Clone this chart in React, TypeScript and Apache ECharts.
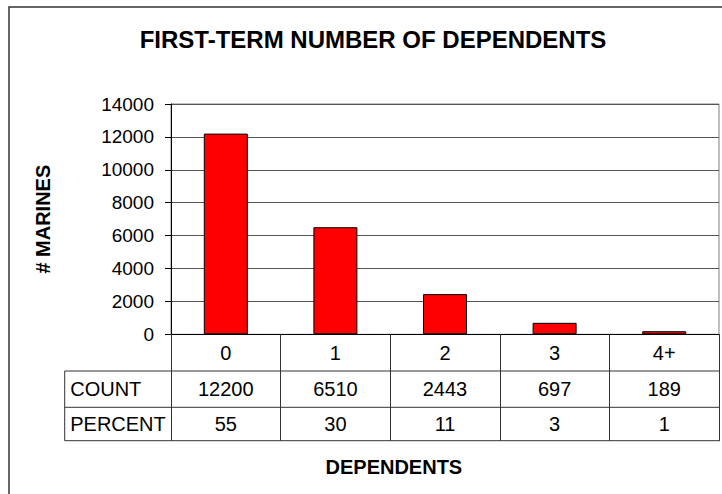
import React, { useEffect, useRef } from "react";
import * as echarts from "echarts";

// ---- data ----
const categories = ["0", "1", "2", "3", "4+"];
const counts = [12200, 6510, 2443, 697, 189];
const percents = [55, 30, 11, 3, 1];
const rowLabels = ["COUNT", "PERCENT"];
const yMin = 0;
const yMax = 14000;
const yInterval = 2000;
const titleText = "FIRST-TERM NUMBER OF DEPENDENTS";
const yName = "# MARINES";
const xName = "DEPENDENTS";

// ---- layout ----
const W = 722;
const H = 494;
const gridLeftX = 171;
const gridRightX = 719;
const gridTopY = 104;
const gridBottomY = 334.3;
const rowH = [36.7, 36.3, 33.4];
const tableLeftX = 64.7;
const FONT = "Arial, 'Liberation Sans', Helvetica, sans-serif";

export default function App() {
  const ref = useRef<HTMLDivElement>(null);

  useEffect(() => {
    if (!ref.current) return;
    const chart = echarts.init(ref.current, null, { renderer: "svg" });

    const row1Y = gridBottomY + rowH[0];
    const row2Y = row1Y + rowH[1];
    const row3Y = row2Y + rowH[2];
    const lineStyle = { stroke: "#333", lineWidth: 1 };

    const graphics: any[] = [
      {
        type: "rect",
        silent: true,
        z: -10,
        shape: { x: 9, y: 7, width: 800, height: 600 },
        style: { fill: "none", stroke: "#333", lineWidth: 1.5 },
      },
      {
        type: "text",
        x: 373,
        y: 39,
        style: {
          text: titleText,
          font: `bold 24px ${FONT}`,
          fill: "#000",
          textAlign: "center",
          textVerticalAlign: "middle",
        },
      },
      ...[row1Y, row2Y, row3Y].map((y) => ({
        type: "line",
        silent: true,
        shape: { x1: tableLeftX, y1: y, x2: gridRightX + 1, y2: y },
        style: lineStyle,
      })),
      {
        type: "line",
        silent: true,
        shape: { x1: tableLeftX, y1: row1Y, x2: tableLeftX, y2: row3Y },
        style: lineStyle,
      },
      ...rowLabels.map((t, i) => ({
        type: "text",
        x: tableLeftX + 5.5,
        y: i === 0 ? (row1Y + row2Y) / 2 : (row2Y + row3Y) / 2,
        style: {
          text: t,
          font: `20px ${FONT}`,
          fill: "#000",
          textAlign: "left",
          textVerticalAlign: "middle",
        },
      })),
      {
        type: "text",
        x: (tableLeftX + gridRightX) / 2 + 2,
        y: 467,
        style: {
          text: xName,
          font: `bold 20px ${FONT}`,
          fill: "#000",
          textAlign: "center",
          textVerticalAlign: "middle",
        },
      },
    ];

    chart.setOption({
      animation: false,
      backgroundColor: "#fff",
      textStyle: { fontFamily: FONT },
      grid: {
        left: gridLeftX,
        right: W - gridRightX,
        top: gridTopY,
        bottom: H - gridBottomY,
        show: true,
        borderColor: "#808080",
        borderWidth: 1,
        containLabel: false,
      },
      xAxis: {
        type: "category",
        data: categories,
        boundaryGap: true,
        axisLine: { show: true, lineStyle: { color: "#000", width: 1 } },
        axisTick: {
          show: true,
          interval: 0,
          length: rowH[0] + rowH[1] + rowH[2],
          lineStyle: { color: "#333", width: 1 },
        },
        axisLabel: {
          interval: 0,
          margin: 0,
          color: "#000",
          formatter: (value: string, idx: number) =>
            `{a|${value}}\n{b|${counts[idx]}}\n{c|${percents[idx]}}`,
          rich: {
            a: { fontSize: 20, lineHeight: rowH[0], fontFamily: FONT, color: "#000" },
            b: { fontSize: 20, lineHeight: rowH[1], fontFamily: FONT, color: "#000" },
            c: { fontSize: 20, lineHeight: rowH[2], fontFamily: FONT, color: "#000" },
          },
        },
        splitLine: { show: false },
      },
      yAxis: {
        type: "value",
        min: yMin,
        max: yMax,
        interval: yInterval,
        name: yName,
        nameLocation: "middle",
        nameRotate: 90,
        nameGap: 118,
        nameTextStyle: { fontSize: 20, fontWeight: "bold", color: "#000", fontFamily: FONT },
        axisLine: { show: true, lineStyle: { color: "#000", width: 1 } },
        axisTick: { show: true, length: 6, lineStyle: { color: "#000" } },
        axisLabel: {
          fontSize: 19,
          color: "#000",
          margin: 17,
          fontFamily: FONT,
          formatter: (v: number) => String(v),
        },
        splitLine: { show: true, lineStyle: { color: "#555", width: 1 } },
      },
      series: [
        {
          type: "bar",
          data: counts,
          barWidth: 44,
          itemStyle: { color: "#FF0000", borderColor: "#000", borderWidth: 1 },
        },
      ],
      graphic: graphics,
    });

    return () => chart.dispose();
  }, []);

  return (
    <div
      ref={ref}
      style={{ position: "absolute", left: 0, top: 0, width: W, height: H, background: "#fff" }}
    />
  );
}
